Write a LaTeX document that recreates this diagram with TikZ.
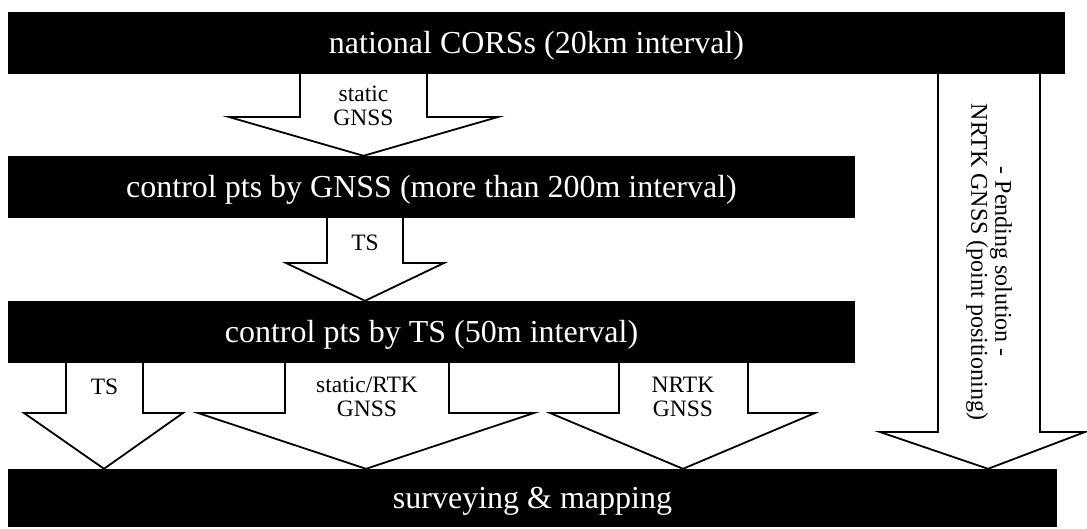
\documentclass[tikz,border=0pt]{standalone}
\usepackage{fontspec}
\setmainfont{Liberation Serif}
\newcommand\blockarrow[8]{% #1 shaft L, #2 shaft R, #3 head L, #4 head R, #5 source node, #6 y of head base, #7 tip x, #8 target node
  \fill[white] (#1,0 |- #5.south) -- (#1,#6) -- (#3,#6) -- (#7,0 |- #8.north) -- (#4,#6) -- (#2,#6) -- (#2,0 |- #5.south) -- cycle;
  \draw[outl] (#1,0 |- #5.south) -- (#1,#6) -- (#3,#6) -- (#7,0 |- #8.north) -- (#4,#6) -- (#2,#6) -- (#2,0 |- #5.south);
}
\begin{document}
\begin{tikzpicture}[x=1pt,y=-1pt,
  bar/.style={fill=black, text=white, inner sep=0pt, font=\fontsize{32}{36}\selectfont,
    text height=21.2pt, text depth=0pt},
  outl/.style={draw=black, line width=1.8pt, line join=miter},
  lbl/.style={font=\fontsize{23.5}{24}\selectfont, align=center, inner sep=0pt},
  vlbl/.style={font=\fontsize{24}{24}\selectfont, align=center, inner sep=0pt}
]
\useasboundingbox (0,0) rectangle (1087,529);
\fill[white] (0,0) rectangle (1087,529);

% bars
\node[bar, minimum width=1057pt, minimum height=62pt] (cors) at (536.5,43) {national CORSs (20km interval)};
\node[bar, minimum width=847pt, minimum height=62pt] (gnss) at (431.5,187) {control pts by GNSS (more than 200m interval)};
\node[bar, minimum width=847pt, minimum height=62pt] (ts) at (431.5,332) {control pts by TS (50m interval)};
\node[bar, minimum width=1049pt, minimum height=58pt] (map) at (532.5,498) {surveying \& mapping};

% block arrows
\blockarrow{300}{427}{229}{498}{cors}{117}{363.5}{gnss}
\blockarrow{327}{403}{286}{444}{gnss}{263}{365}{ts}
\blockarrow{66}{143}{24}{183}{ts}{413}{104}{map}
\blockarrow{285}{449}{198}{534}{ts}{413}{366}{map}
\blockarrow{619}{748}{550}{815}{ts}{413}{683}{map}
\blockarrow{938}{1040}{880}{1085}{cors}{432}{988}{map}

% labels
\node[lbl, anchor=base] (l1a) at (363.5,102) {static};
\node[lbl, anchor=base] (l1b) at (363.5,126) {GNSS};
\node[lbl, anchor=base] (l2) at (365,251) {TS};
\node[lbl, anchor=base] (l3) at (104.5,394) {TS};
\node[lbl, anchor=base] (l4a) at (367,392) {static/RTK};
\node[lbl, anchor=base] (l4b) at (367,416) {GNSS};
\node[lbl, anchor=base] (l5a) at (683,392) {NRTK};
\node[lbl, anchor=base] (l5b) at (683,416) {GNSS};
\node[vlbl, rotate=-90] (pend) at (989,262) {- Pending solution -\\NRTK GNSS (point positioning)};
\end{tikzpicture}
\end{document}
